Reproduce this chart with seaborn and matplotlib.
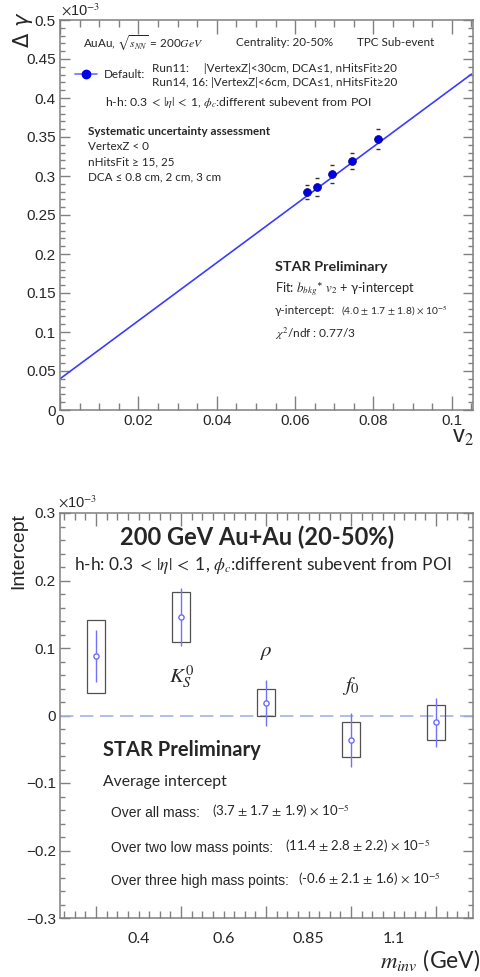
import numpy as np
import pandas as pd
import seaborn as sns
import matplotlib.pyplot as plt
from matplotlib.ticker import MultipleLocator, FuncFormatter

sns.set_style("ticks")
plt.rcParams['font.family'] = ['Liberation Sans', 'DejaVu Sans']
plt.rcParams['mathtext.fontset'] = 'stix'

# top panel: delta gamma vs v2 (units of 1e-3)
v2 = [0.0630, 0.0656, 0.0694, 0.0745, 0.0811]
dgamma = [0.2795, 0.286, 0.3026, 0.319, 0.347]
dgamma_sys = [0.0096, 0.011, 0.012, 0.010, 0.013]
fit_intercept = 0.040
fit_slope = 3.72

# bottom panel: intercept per mass bin (units of 1e-3)
mass_bin = [1, 2, 3, 4, 5]
intercept = [0.088, 0.146, 0.019, -0.036, -0.010]
intercept_stat = [0.038, 0.043, 0.034, 0.040, 0.036]
intercept_sys = [0.054, 0.037, 0.020, 0.026, 0.026]
edge_pos = [1.5, 2.5, 3.5, 4.5]
edge_labels = ['0.4', '0.6', '0.85', '1.1']
reso_labels = [r'$K_S^0$', r'$\rho$', r'$f_0$']
reso_pos = [(2, 0.058), (3, 0.093), (4, 0.043)]

CAL = ['Lato', 'DejaVu Sans']
W, H = 481, 977
fig = plt.figure(figsize=(W / 100, H / 100), dpi=100)


def ftext(x, y, s, **kw):
    kw.setdefault('va', 'center')
    kw.setdefault('ha', 'left')
    fig.text(x / W, 1 - y / H, s, **kw)


def root_style(ax):
    for sp in ax.spines.values():
        sp.set_visible(True)
        sp.set_color('#808080')
        sp.set_linewidth(1.1)
    ax.tick_params(which='both', direction='in', top=True, right=True,
                   color='#808080', width=1.0, labelsize=11, pad=3)
    ax.tick_params(which='major', length=7)
    ax.tick_params(which='minor', length=3.5)


fmt = FuncFormatter(lambda v, p: ('%g' % round(v, 4)).replace('-', '\u2212'))

# ---------------- top panel ----------------
ax1 = fig.add_axes([60 / W, 1 - 410 / H, 413 / W, 390 / H])
xs = np.array([0, 0.105])
sns.lineplot(x=xs, y=fit_intercept + fit_slope * xs, ax=ax1, color='#3c3cff', lw=1.2)
df1 = pd.DataFrame({'v2': v2, 'dg': dgamma, 'sys': dgamma_sys})
ax1.plot(df1.v2, df1.dg + df1.sys, ls='none', marker='_', ms=3, mew=1, color='#333333')
ax1.plot(df1.v2, df1.dg - df1.sys, ls='none', marker='_', ms=3, mew=1, color='#333333')
sns.scatterplot(data=df1, x='v2', y='dg', ax=ax1, s=32, color='#0000e6',
                edgecolor='#00007a', linewidth=0.5, zorder=4)
ax1.set_xlim(0, 0.1054)
ax1.set_ylim(0, 0.5)
ax1.xaxis.set_major_locator(MultipleLocator(0.02))
ax1.xaxis.set_minor_locator(MultipleLocator(0.005))
ax1.yaxis.set_major_locator(MultipleLocator(0.05))
ax1.yaxis.set_minor_locator(MultipleLocator(0.01))
ax1.xaxis.set_major_formatter(fmt)
ax1.yaxis.set_major_formatter(fmt)
ax1.set_xlabel('')
ax1.set_ylabel('')
root_style(ax1)
ax1.tick_params(axis='x', which='major', length=10)
ax1.tick_params(axis='x', which='minor', length=5)

# legend sample
ax1.plot([0.036, 0.063, 0.0896], [0.8615] * 3, transform=ax1.transAxes, color='#6d6dff',
         lw=1.2, marker='o', markevery=[1], ms=6, mfc='#0000e6', mec='#0000e6', clip_on=False)

ftext(61, 10, r'$\times$10$^{-3}$', fontsize=10.5)
ftext(23, 30, r'$\Delta\ \gamma$', fontsize=15, rotation=90, ha='center',
      fontfamily='DejaVu Sans', math_fontfamily='dejavusans')
ftext(463, 437, r'v$_2$', fontsize=17, ha='center')

fs = 8.4
ftext(83, 43, r'AuAu, $\sqrt{s_{NN}}$ = 200$GeV$', fontsize=fs, family=CAL)
ftext(236, 43, 'Centrality: 20-50%', fontsize=fs, family=CAL)
ftext(357, 43, 'TPC Sub-event', fontsize=fs, family=CAL)
ftext(104, 74, 'Default:', fontsize=fs, family=CAL)
ftext(152, 68, 'Run11:     |VertexZ|<30cm, DCA\u22641, nHitsFit\u226520', fontsize=fs, family=CAL)
ftext(152, 82, 'Run14, 16: |VertexZ|<6cm, DCA\u22641, nHitsFit\u226520', fontsize=fs, family=CAL)
ftext(105, 103, r'h-h: 0.3 $<\,|\eta|\,<$ 1, $\phi_c$:different subevent from POI', fontsize=8.8, family=CAL)
ftext(88, 132, 'Systematic uncertainty assessment', fontsize=8.4, family=CAL, fontweight='bold')
ftext(88, 147, 'VertexZ < 0', fontsize=fs, family=CAL)
ftext(88, 162, 'nHitsFit \u2265 15, 25', fontsize=fs, family=CAL)
ftext(88, 177, 'DCA \u2264 0.8 cm, 2 cm, 3 cm', fontsize=fs, family=CAL)
ftext(275, 267, 'STAR Preliminary', fontsize=10.4, family=CAL, fontweight='bold')
ftext(275, 289, 'Fit: $b_{bkg}$* $v_2$ + \u03b3-intercept', fontsize=9.3, family=CAL)
ftext(275, 311, '\u03b3-intercept:', fontsize=fs, family=CAL)
ftext(341, 311, r'(4.0 $\pm$ 1.7 $\pm$ 1.8) $\times$ 10$^{-5}$', fontsize=7.4, family=CAL)
ftext(275, 334, r'$\chi^2$/ndf : 0.77/3', fontsize=8.6, family=CAL)

# ---------------- bottom panel ----------------
ax2 = fig.add_axes([60 / W, 1 - 918 / H, 413 / W, 405 / H])
df2 = pd.DataFrame({'m': mass_bin, 'y': intercept, 'stat': intercept_stat, 'sys': intercept_sys})
ax2.axhline(0, color='#a3b3e6', lw=1.2, dashes=(8, 4))
ax2.bar(df2.m, 2 * df2.sys, bottom=df2.y - df2.sys, width=0.21, fill=False,
        edgecolor='#505050', lw=0.9, zorder=2)
ax2.errorbar(df2.m, df2.y, yerr=df2.stat, fmt='none', ecolor='#7272ff', elinewidth=1, zorder=3)
sns.scatterplot(data=df2, x='m', y='y', ax=ax2, s=14, marker='o', facecolor='white',
                edgecolor='#6a6aff', linewidth=1, zorder=4)
ax2.set_xlim(0.576, 5.435)
ax2.set_ylim(-0.3, 0.3)
ax2.set_xticks(mass_bin)
ax2.set_xticklabels([''] * len(mass_bin))
ax2.xaxis.set_minor_locator(MultipleLocator(0.125))
ax2.yaxis.set_major_locator(MultipleLocator(0.1))
ax2.yaxis.set_minor_locator(MultipleLocator(0.02))
ax2.yaxis.set_major_formatter(fmt)
ax2.set_xlabel('')
ax2.set_ylabel('')
root_style(ax2)
ax2.tick_params(axis='x', which='major', length=9)
ax2.tick_params(axis='x', which='minor', length=5)

for xp, lab in zip(edge_pos, edge_labels):
    ax2.text(xp, -0.052, lab, transform=ax2.get_xaxis_transform(), ha='center', va='center',
             fontsize=11.5, family=CAL)
for lab, (xp, yp) in zip(reso_labels, reso_pos):
    ax2.text(xp, yp, lab, ha='center', va='center', fontsize=15)

ftext(58, 502, r'$\times$10$^{-3}$', fontsize=10.5)
ftext(19, 551, 'Intercept', fontsize=14, rotation=90, ha='center')
ftext(257, 537, '200 GeV Au+Au (20-50%)', fontsize=17, family=CAL, fontweight='bold', ha='center')
ftext(263, 565, r'h-h: 0.3 $<\,|\eta|\,<$ 1, $\phi_c$:different subevent from POI', fontsize=12.5,
      family=CAL, ha='center')
ftext(103, 750, 'STAR Preliminary', fontsize=14.5, family=CAL, fontweight='bold')
ftext(103, 782, 'Average intercept', fontsize=11.3, family=CAL)
ftext(111, 813, 'Over all mass:', fontsize=10)
ftext(212, 811, r'(3.7 $\pm$ 1.7 $\pm$ 1.9) $\times$ 10$^{-5}$', fontsize=9.5, family=CAL)
ftext(111, 848, 'Over two low mass points:', fontsize=10)
ftext(285, 846, r'(11.4 $\pm$ 2.8 $\pm$ 2.2) $\times$ 10$^{-5}$', fontsize=9.5, family=CAL)
ftext(111, 881, 'Over three high mass points:', fontsize=10)
ftext(298, 879, r'(-0.6 $\pm$ 2.1 $\pm$ 1.6) $\times$ 10$^{-5}$', fontsize=9.5, family=CAL)
ftext(380, 960, r'$m_{inv}$ (GeV)', fontsize=16.5, family=CAL)

fig.savefig('out.png', dpi=100)
